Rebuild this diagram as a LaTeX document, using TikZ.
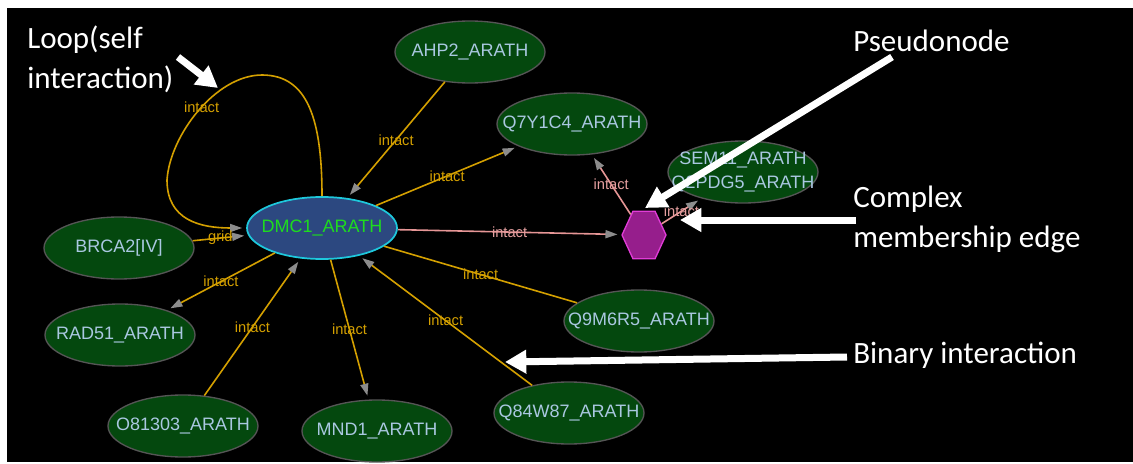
\documentclass[tikz,border=0pt]{standalone}
\usepackage{fontspec}
\setmainfont{Liberation Sans}
\newfontfamily\calib{Carlito}
\usetikzlibrary{arrows.meta,shapes.geometric}

\definecolor{protfill}{RGB}{4,72,14}
\definecolor{protedge}{RGB}{85,85,85}
\definecolor{prottext}{RGB}{170,200,225}
\definecolor{dmcfill}{RGB}{44,72,128}
\definecolor{dmcedge}{RGB}{30,200,220}
\definecolor{dmctext}{RGB}{30,220,30}
\definecolor{gold}{RGB}{212,160,0}
\definecolor{pinkedge}{RGB}{230,150,150}
\definecolor{pinktext}{RGB}{230,160,160}
\definecolor{hexfill}{RGB}{150,30,140}
\definecolor{hexedge}{RGB}{225,60,215}
\definecolor{tipgray}{RGB}{140,140,140}

\newcommand\plabel[1]{\makebox[0pt]{#1}}

\tikzset{
  prot/.style={ellipse, draw=protedge, line width=1pt, fill=protfill,
    minimum width=112.5pt, minimum height=46.5pt, inner sep=0pt,
    text=prottext, font=\fontsize{13.5pt}{18pt}\selectfont},
  hub/.style={prot, draw=dmcedge, line width=1.3pt, fill=dmcfill, text=dmctext},
  pseudo/.style={regular polygon, regular polygon sides=6, minimum size=33pt,
    inner sep=0pt, fill=hexfill, draw=hexedge, line width=1pt},
  gedge/.style={draw=gold, line width=1.2pt},
  garrow/.style={gedge, -{Triangle[length=9pt,width=6pt,color=tipgray]}, shorten >=3pt},
  pedge/.style={draw=pinkedge, line width=1.2pt,
    -{Triangle[length=9pt,width=6pt,color=tipgray]}, shorten >=3pt},
  elab/.style={font=\fontsize{11pt}{13pt}\selectfont, text=gold, inner sep=0pt},
  plab/.style={elab, text=pinktext},
  note/.style={font=\calib\fontsize{23.25pt}{29.5pt}\selectfont, text=white,
    align=left, inner sep=0pt, anchor=base west},
  callout/.style={draw=white, line width=5.25pt, -{Triangle[length=16pt,width=17pt]}}
}

\begin{document}
\begin{tikzpicture}[x=0.75pt, y=-0.75pt]
		%%%%% BACKGROUND %%%%%
		\useasboundingbox (0,0) rectangle (1133,464);
		\fill[white] (0,0) rectangle (1133,464);
		\fill[black] (7,8) rectangle (1133,462);
		
		%%%%% NODES %%%%%
		\node[hub]  (dmc)  at (322,228) {\plabel{DMC1\_ARATH}};
		\node[prot] (ahp2) at (470,52)  {\plabel{AHP2\_ARATH}};
		\node[prot] (q7y)  at (572,124) {\plabel{Q7Y1C4\_ARATH}};
		\node[prot, inner ysep=-2pt] (sem) at (743,172)
			{\plabel{\begin{tabular}{@{}c@{}}SEM11\_ARATH\\Q2PDG5\_ARATH\end{tabular}}};
		\node[prot] (brca) at (119,248) {\plabel{BRCA2[IV]}};
		\node[prot] (rad)  at (120,335) {\plabel{RAD51\_ARATH}};
		\node[prot] (o81)  at (183,426) {\plabel{O81303\_ARATH}};
		\node[prot] (mnd)  at (377,431) {\plabel{MND1\_ARATH}};
		\node[prot] (q84)  at (569,413) {\plabel{Q84W87\_ARATH}};
		\node[prot] (q9m)  at (639,321) {\plabel{Q9M6R5\_ARATH}};
		\begin{scope}[shift={(644,235)}, yscale=1.25, transform shape]
			\node[pseudo] (hex) at (0,0) {};
		\end{scope}
		
		%%%%% EDGES %%%%%
		\draw[garrow] (dmc.north) .. controls (322,120) and (308,75) .. (262,75)
			.. controls (216,75) and (170,135) .. node[elab, pos=.47] (lloop) {intact} (167,180)
			.. controls (167,220) and (200,228) .. (dmc.west);
		\draw[garrow] (ahp2) -- node[elab] (lahp) {intact} (dmc);
		\draw[garrow] (dmc) -- node[elab] (lq7y) {intact} (q7y);
		\draw[garrow] (brca) -- node[elab] (lbrca) {grid} (dmc);
		\draw[garrow] (dmc) -- node[elab] (lrad) {intact} (rad);
		\draw[garrow] (o81) -- node[elab] (lo81) {intact} (dmc);
		\draw[garrow] (dmc) -- node[elab] (lmnd) {intact} (mnd);
		\draw[garrow] (q84) -- node[elab] (lq84) {intact} (dmc);
		\draw[gedge] (dmc) -- node[elab] (lq9m) {intact} (q9m);
		
		\draw[pedge] (dmc) -- node[plab] (lhex) {intact} (hex);
		\draw[pedge] (hex) -- node[plab] (lhq7) {intact} (q7y);
		\draw[pedge] (hex) -- node[plab] (lhsem) {intact} (sem);
		
		%%%%% NOTES %%%%%
		\node[note] (tloop) at (27,88) {Loop(self\\interaction)};
		\node[note] (tpse) at (853,51) {Pseudonode};
		\node[note] (tcpx) at (853,247) {Complex\\membership edge};
		\node[note] (tbin) at (853,363) {Binary interaction};
		
		\coordinate (loopA) at (178,57);
		\coordinate (loopB) at (218,88);
		\coordinate (pseA) at (892,57);
		\coordinate (pseB) at (645,208);
		\coordinate (cpxA) at (856,220);
		\coordinate (cpxB) at (680,220);
		\coordinate (binA) at (847,357);
		\coordinate (binB) at (505,362);
		\draw[callout] (loopA) -- (loopB);
		\draw[callout] (pseA) -- (pseB);
		\draw[callout] (cpxA) -- (cpxB);
		\draw[callout] (binA) -- (binB);
		
		%%%%% END %%%%%
\end{tikzpicture}
\end{document}
